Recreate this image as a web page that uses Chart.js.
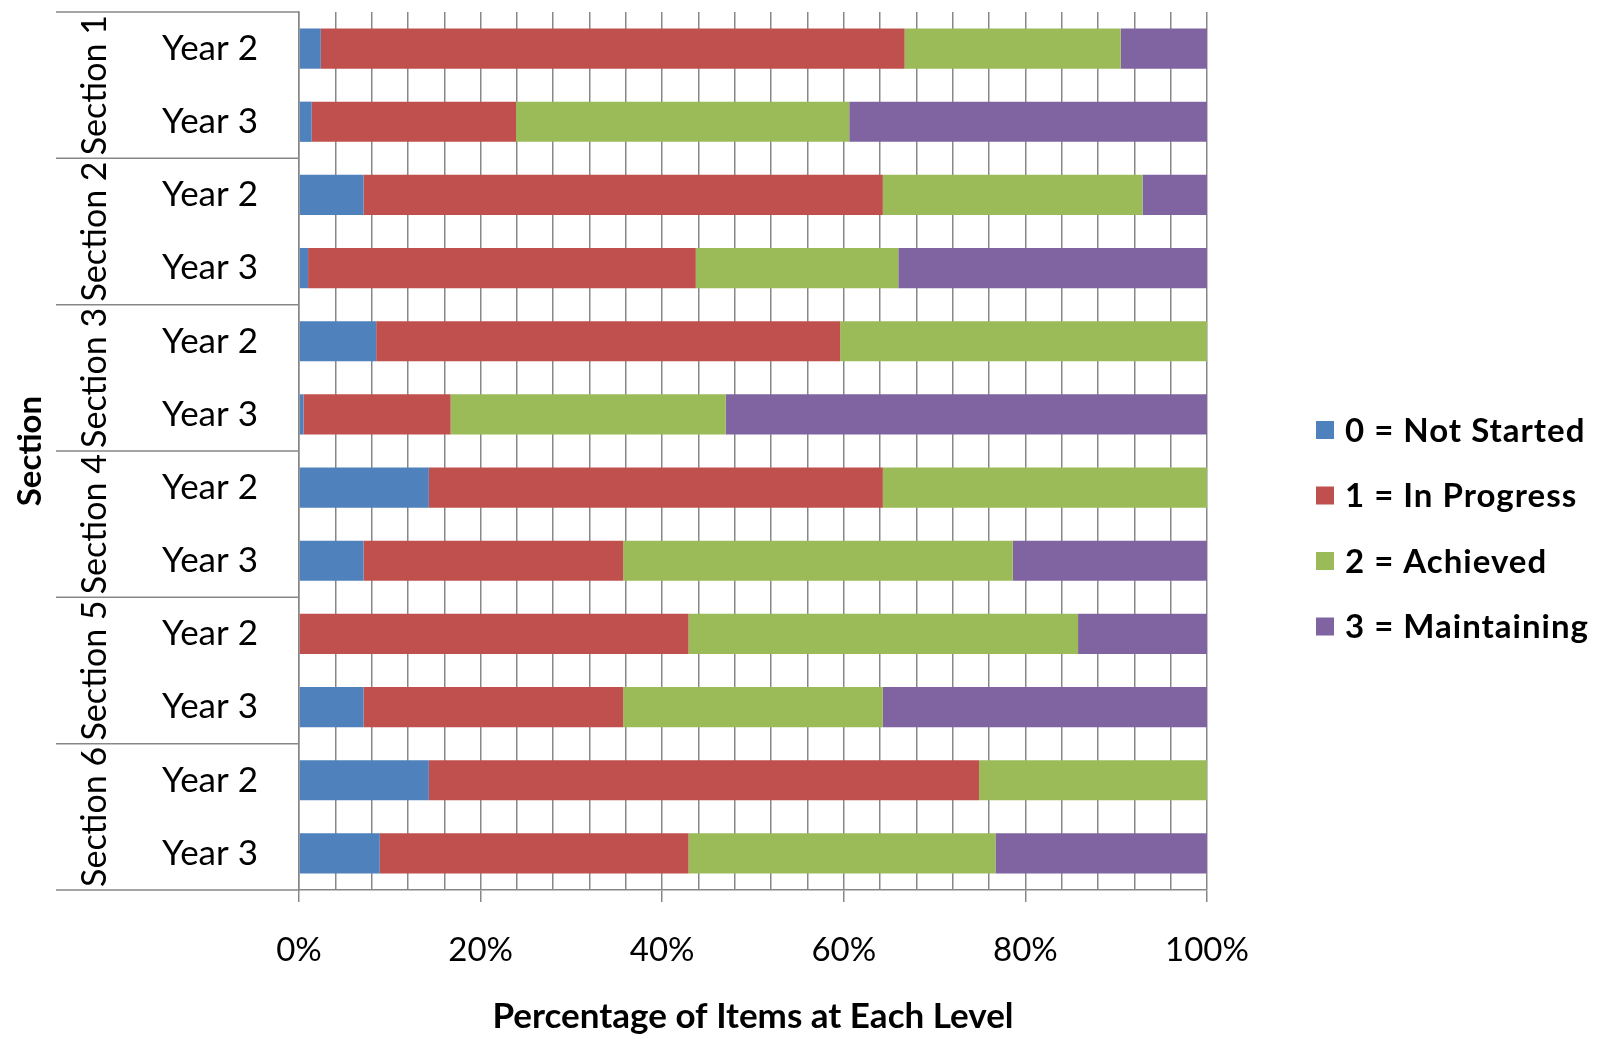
<!DOCTYPE html>
<html>
<head>
<meta charset="utf-8">
<script src="https://cdn.jsdelivr.net/npm/chart.js@4/dist/chart.umd.min.js"></script>
<style>
  html, body { margin: 0; padding: 0; background: #ffffff; }
  canvas { display: block; }
</style>
</head>
<body>
<canvas id="chart" width="1608" height="1038"></canvas>
<script>
// Section groups and the year rows inside each one (top to bottom)
const sections = ['Section 1', 'Section 2', 'Section 3', 'Section 4', 'Section 5', 'Section 6'];
const rowLabels = ['Year 2', 'Year 3', 'Year 2', 'Year 3', 'Year 2', 'Year 3',
                   'Year 2', 'Year 3', 'Year 2', 'Year 3', 'Year 2', 'Year 3'];

// Share of items (%) at each level, one value per row
const notStarted  = [2.4, 1.4, 7.1, 1.0, 8.5, 0.5, 14.3, 7.1, 0.0, 7.1, 14.3, 8.9];
const inProgress  = [64.3, 22.5, 57.2, 42.7, 51.1, 16.2, 50.0, 28.6, 42.9, 28.6, 60.6, 34.0];
const achieved    = [23.8, 36.7, 28.6, 22.3, 40.4, 30.3, 35.7, 42.9, 42.9, 28.6, 25.1, 33.8];
const maintaining = [9.5, 39.4, 7.1, 34.0, 0.0, 53.0, 0.0, 21.4, 14.2, 35.7, 0.0, 23.3];

const levelNames = ['0 = Not Started', '1 = In Progress', '2 = Achieved', '3 = Maintaining'];
const levelColors = ['#4F81BD', '#C0504D', '#9BBB59', '#8064A2'];

const FONT = 'Lato, "Open Sans", sans-serif';
const LINE = '#878787';
const LABEL_LEFT = 56;

// Draws the section group labels, their separators and the legend
const groupPlugin = {
  id: 'sectionGroups',
  afterDraw(chart) {
    const { ctx, chartArea, scales } = chart;
    const y = scales.y;
    const half = (y.getPixelForValue(1) - y.getPixelForValue(0)) / 2;
    ctx.save();
    ctx.strokeStyle = LINE;
    ctx.lineWidth = 1.5;
    ctx.fillStyle = '#000';
    ctx.font = '34px ' + FONT;
    ctx.textAlign = 'center';
    ctx.textBaseline = 'middle';
    sections.forEach((name, i) => {
      const top = y.getPixelForValue(i * 2) - half;
      const bottom = y.getPixelForValue(i * 2 + 1) + half;
      ctx.beginPath();
      ctx.moveTo(LABEL_LEFT, top);
      ctx.lineTo(chartArea.left, top);
      ctx.stroke();
      ctx.save();
      ctx.translate(95, (top + bottom) / 2);
      ctx.rotate(-Math.PI / 2);
      ctx.fillText(name, 0, 0);
      ctx.restore();
    });
    ctx.beginPath();
    ctx.moveTo(LABEL_LEFT, chartArea.bottom);
    ctx.lineTo(chartArea.left, chartArea.bottom);
    ctx.stroke();

    // legend
    ctx.textAlign = 'left';
    ctx.font = 'bold 33px ' + FONT;
    ctx.letterSpacing = '1px';
    const legendTop = 430;
    const legendStep = 65.5;
    chart.data.datasets.forEach((ds, i) => {
      const cy = legendTop + i * legendStep;
      ctx.fillStyle = ds.backgroundColor;
      ctx.fillRect(1316, cy - 9, 18, 18);
      ctx.fillStyle = '#000';
      ctx.fillText(ds.label, 1345, cy + 1);
    });
    ctx.restore();
  }
};

const series = [notStarted, inProgress, achieved, maintaining];

new Chart(document.getElementById('chart'), {
  type: 'bar',
  data: {
    labels: rowLabels,
    datasets: series.map((values, i) => ({
      label: levelNames[i],
      data: values,
      backgroundColor: levelColors[i],
      borderWidth: 0,
      barPercentage: 0.55,
      categoryPercentage: 1.0
    }))
  },
  options: {
    indexAxis: 'y',
    responsive: false,
    animation: false,
    layout: { padding: { left: 0, top: 12, right: 401, bottom: 0 } },
    plugins: {
      legend: { display: false },
      tooltip: { enabled: false }
    },
    scales: {
      x: {
        stacked: true,
        min: 0,
        max: 100,
        grid: {
          color: LINE,
          lineWidth: 1.5,
          tickLength: 12,
          tickColor: (ctx) => (ctx.tick && ctx.tick.value % 20 === 0) ? LINE : 'rgba(0,0,0,0)'
        },
        border: { color: LINE, width: 1.5 },
        ticks: {
          stepSize: 4,
          autoSkip: false,
          maxRotation: 0,
          padding: 29,
          color: '#000',
          font: { family: FONT, size: 33 },
          callback: (v) => (v % 20 === 0 ? v + '%' : '')
        },
        title: {
          display: true,
          text: 'Percentage of Items at Each Level',
          color: '#000',
          font: { family: FONT, size: 35, weight: 'bold' },
          padding: { top: 0, bottom: 0 }
        },
        afterFit: (scale) => { scale.height = 148; }
      },
      y: {
        stacked: true,
        grid: { display: false, drawTicks: false },
        border: { display: true, color: LINE, width: 1.5 },
        ticks: {
          padding: 41,
          color: '#000',
          font: { family: FONT, size: 35 }
        },
        title: {
          display: true,
          text: 'Section',
          color: '#000',
          font: { family: FONT, size: 33, weight: 'bold' },
          padding: { top: 11, bottom: 0 }
        },
        afterFit: (scale) => {
          scale.width = 299;
          scale.paddingTop = 0;
          scale.paddingBottom = 0;
        }
      }
    }
  },
  plugins: [groupPlugin]
});
</script>
</body>
</html>
